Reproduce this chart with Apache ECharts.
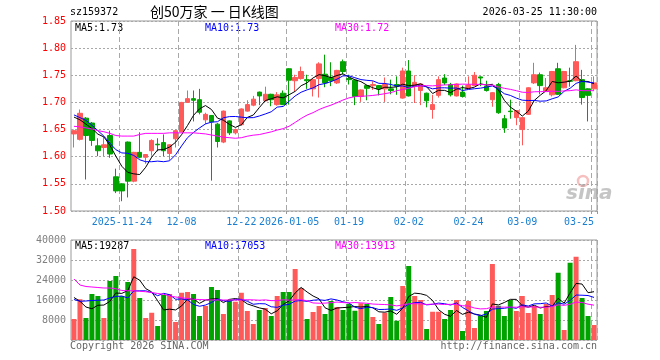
<!DOCTYPE html>
<html><head><meta charset="utf-8">
<script src="https://cdn.jsdelivr.net/npm/echarts@6/dist/echarts.min.js"></script>
<style>html,body{margin:0;padding:0;background:#fff}#c{width:660px;height:360px}</style>
</head><body><div id="c"></div>
<script>
const dates = ['2025-11-12','2025-11-13','2025-11-14','2025-11-17','2025-11-18','2025-11-19','2025-11-20','2025-11-21',
'2025-11-24','2025-11-25','2025-11-26','2025-11-27','2025-11-28','2025-12-01','2025-12-02','2025-12-03','2025-12-04','2025-12-05',
'2025-12-08','2025-12-09','2025-12-10','2025-12-11','2025-12-12','2025-12-15','2025-12-16','2025-12-17','2025-12-18','2025-12-19',
'2025-12-22','2025-12-23','2025-12-24','2025-12-25','2025-12-26','2025-12-29','2025-12-30','2025-12-31',
'2026-01-05','2026-01-06','2026-01-07','2026-01-08','2026-01-09','2026-01-12','2026-01-13','2026-01-14','2026-01-15','2026-01-16',
'2026-01-19','2026-01-20','2026-01-21','2026-01-22','2026-01-23','2026-01-26','2026-01-27','2026-01-28','2026-01-29','2026-01-30',
'2026-02-02','2026-02-03','2026-02-04','2026-02-05','2026-02-06','2026-02-09','2026-02-10','2026-02-11','2026-02-12','2026-02-13',
'2026-02-24','2026-02-25','2026-02-26','2026-02-27','2026-03-02','2026-03-03','2026-03-04','2026-03-05','2026-03-06',
'2026-03-09','2026-03-10','2026-03-11','2026-03-12','2026-03-13','2026-03-16','2026-03-17','2026-03-18','2026-03-19','2026-03-20',
'2026-03-23','2026-03-24','2026-03-25'];

const opens = [1.642,1.632,1.671,1.662,1.620,1.617,1.639,1.563,1.550,1.627,
1.555,1.608,1.599,1.611,1.623,1.626,1.606,1.633,1.646,1.700,
1.707,1.705,1.668,1.676,1.660,1.627,1.666,1.644,1.659,1.684,
1.695,1.719,1.703,1.715,1.696,1.717,1.762,1.740,1.744,1.742,
1.725,1.744,1.752,1.746,1.736,1.775,1.744,1.741,1.711,1.731,
1.731,1.731,1.725,1.725,1.733,1.708,1.758,1.730,1.722,1.717,
1.687,1.713,1.745,1.733,1.712,1.719,1.726,1.731,1.747,1.730,
1.705,1.733,1.670,1.684,1.672,1.650,1.678,1.736,1.751,1.721,
1.714,1.762,1.727,1.740,1.740,1.742,1.725,1.725];
const closes = [1.648,1.680,1.639,1.630,1.611,1.622,1.605,1.537,1.537,1.555,
1.608,1.599,1.604,1.630,1.622,1.611,1.622,1.648,1.700,1.707,
1.704,1.682,1.678,1.664,1.628,1.684,1.644,1.650,1.688,1.696,
1.706,1.712,1.715,1.705,1.714,1.696,1.741,1.746,1.757,1.740,
1.742,1.771,1.736,1.740,1.759,1.757,1.742,1.711,1.723,1.726,
1.733,1.725,1.733,1.722,1.730,1.758,1.712,1.737,1.734,1.703,
1.696,1.742,1.736,1.714,1.734,1.711,1.732,1.750,1.745,1.722,
1.718,1.681,1.653,1.683,1.685,1.672,1.727,1.751,1.731,1.727,
1.757,1.715,1.757,1.739,1.775,1.709,1.713,1.736];
const highs = [1.650,1.687,1.673,1.664,1.634,1.636,1.648,1.578,1.551,1.628,
1.609,1.645,1.605,1.632,1.634,1.641,1.623,1.650,1.701,1.722,
1.722,1.725,1.681,1.676,1.662,1.685,1.667,1.652,1.689,1.704,
1.712,1.720,1.729,1.716,1.719,1.722,1.763,1.751,1.766,1.751,
1.743,1.774,1.788,1.774,1.760,1.779,1.751,1.742,1.724,1.732,
1.739,1.732,1.746,1.742,1.748,1.764,1.778,1.750,1.735,1.718,
1.714,1.748,1.752,1.736,1.735,1.731,1.748,1.756,1.748,1.740,
1.719,1.736,1.677,1.705,1.686,1.673,1.728,1.773,1.755,1.745,
1.758,1.773,1.758,1.764,1.806,1.760,1.726,1.748];
const lows = [1.617,1.630,1.558,1.620,1.601,1.601,1.598,1.533,1.518,1.525,
1.553,1.597,1.587,1.602,1.610,1.601,1.594,1.617,1.645,1.699,
1.665,1.678,1.660,1.556,1.617,1.625,1.640,1.641,1.657,1.683,
1.693,1.695,1.701,1.693,1.694,1.695,1.696,1.720,1.742,1.725,
1.711,1.709,1.728,1.730,1.734,1.752,1.733,1.695,1.701,1.704,
1.723,1.713,1.701,1.715,1.714,1.707,1.711,1.699,1.695,1.691,
1.670,1.709,1.732,1.711,1.711,1.709,1.725,1.730,1.730,1.720,
1.692,1.679,1.644,1.670,1.658,1.621,1.677,1.734,1.715,1.720,
1.711,1.714,1.726,1.729,1.739,1.696,1.665,1.722];
const volumes = [8400,16300,8800,18400,17600,8800,23600,25600,17600,23200,
36400,16800,8800,10900,5600,18000,18400,7200,18900,19200,
18400,9600,13600,21200,20000,10400,16000,15300,18900,11600,
6400,12000,12800,9600,17600,19200,19200,28400,20800,8400,
11200,13600,10400,15600,13200,12000,14400,11700,14700,14400,
9200,6400,10900,17200,7700,21600,29600,17600,16000,4400,
11300,11300,8400,12000,16000,3600,15600,4800,9700,11600,
30400,13700,9600,16000,11600,17600,10800,13600,10400,14400,
18000,26900,4000,30900,33300,16800,9600,6000];

const ma5Lead = [1.673,1.668,1.660,1.652];
const ma10Lead = [1.677,1.672,1.667,1.658,1.648,1.638,1.625,1.613,1.607];
const ma30Lead = [1.656,1.655,1.653,1.651,1.648,1.646,1.643,1.639,1.638,1.638,
1.638,1.641,1.643,1.643,1.643,1.643,1.644,1.644,1.644,1.644,
1.644,1.643,1.642,1.640,1.638,1.636,1.635,1.634,1.635];
const vma5Lead = [17000,15500,13200,12500];
const vma10Lead = [16200,15500,15600,15800,15900,16000,16800,17400,17600];
const vma30Lead = [24400,22000,21400,21200,21000,20800,20800,20500,19800,19700,
19700,19500,19300,19000,18600,18300,17600,17200,16900,16600,
16300,16200,16100,16000,16000,16000,16000,16000,16000];

const tickDates = ['2025-11-24','2025-12-08','2025-12-22','2026-01-05','2026-01-19','2026-02-02','2026-02-24','2026-03-09','2026-03-25'];
const tickLabels = ['2025-11-24','12-08','12-22','2026-01-05','01-19','02-02','02-24','03-09','03-25'];
const priceMin = 1.50, priceMax = 1.85, priceStep = 0.05;
const volMin = 0, volMax = 40000, volStep = 8000;

const maLabels = ['MA5:1.73','MA10:1.73','MA30:1.72'];
const vmaLabels = ['MA5:19287','MA10:17053','MA30:13913'];

function movingAvg(vals, n, lead, dp) {
  return vals.map((v, i) => {
    if (i < n - 1) return lead[i];
    let s = 0; for (let k = i - n + 1; k <= i; k++) s += vals[k];
    return +(s / n).toFixed(dp);
  });
}
const RED = '#ff5a5a', GREEN = '#00a300';
const MONO = 'DejaVu Sans Mono';
const isTick = (i, v) => tickDates.indexOf(v) >= 0;
const kData = dates.map((d, i) => [opens[i], closes[i], lows[i], highs[i]]);
const volData = volumes.map((v, i) => ({ value: v, itemStyle: { color: closes[i] >= opens[i] ? RED : GREEN } }));

const chart = echarts.init(document.getElementById('c'), null, { renderer: 'canvas' });
const gridL = 71, gridR = 63;
const dashed = { color: '#a8a8a8', type: [5, 3], width: 1 };
const dotted = { color: '#a8a8a8', type: [2, 2], width: 1 };
function txt(x, y, s, color, opts) {
  return Object.assign({ type: 'text', x: x, y: y, silent: true, style: Object.assign({ text: s, fill: color, font: '10px "' + MONO + '"', textVerticalAlign: 'middle', verticalAlign: 'middle' }, opts || {}) });
}
const option = {
  animation: false,
  backgroundColor: '#fff',
  grid: [
    { left: gridL, right: gridR, top: 21, height: 190, show: true, borderColor: '#999', borderWidth: 1, backgroundColor: 'transparent' },
    { left: gridL, right: gridR, top: 240, height: 100, show: true, borderColor: '#999', borderWidth: 1, backgroundColor: 'transparent' }
  ],
  xAxis: [
    { type: 'category', gridIndex: 0, data: dates, boundaryGap: true,
      axisLine: { show: false },
      axisTick: { show: true, interval: isTick, length: 3, lineStyle: { color: '#999' } },
      axisLabel: { interval: isTick, color: '#1a7fd0', fontFamily: MONO, fontSize: 10, margin: 6,
        formatter: v => tickLabels[tickDates.indexOf(v)] || '', alignMaxLabel: 'right' },
      splitLine: { show: true, interval: isTick, lineStyle: dashed } },
    { type: 'category', gridIndex: 1, data: dates, boundaryGap: true,
      axisLine: { show: false }, axisTick: { show: false }, axisLabel: { show: false },
      splitLine: { show: true, interval: isTick, lineStyle: dashed } }
  ],
  yAxis: [
    { type: 'value', gridIndex: 0, min: priceMin, max: priceMax, interval: priceStep,
      axisLine: { show: false }, axisTick: { show: false },
      axisLabel: { color: '#ff0000', fontFamily: MONO, fontSize: 10, margin: 5, formatter: v => v.toFixed(2) },
      splitLine: { show: true, lineStyle: dotted } },
    { type: 'value', gridIndex: 1, min: volMin, max: volMax, interval: volStep,
      axisLine: { show: false }, axisTick: { show: false },
      axisLabel: { color: '#808080', fontFamily: MONO, fontSize: 10, margin: 5, formatter: v => v === 0 ? '' : String(v) },
      splitLine: { show: true, lineStyle: dotted } }
  ],
  series: [
    { type: 'candlestick', xAxisIndex: 0, yAxisIndex: 0, data: kData, barWidth: 5,
      itemStyle: { color: RED, color0: GREEN, borderColor: RED, borderColor0: GREEN, borderWidth: 1 } },
    { type: 'line', xAxisIndex: 0, yAxisIndex: 0, data: movingAvg(closes, 5, ma5Lead, 4), showSymbol: false, lineStyle: { color: '#000', width: 1 }, itemStyle: { color: '#000' } },
    { type: 'line', xAxisIndex: 0, yAxisIndex: 0, data: movingAvg(closes, 10, ma10Lead, 4), showSymbol: false, lineStyle: { color: '#0000ff', width: 1 }, itemStyle: { color: '#00f' } },
    { type: 'line', xAxisIndex: 0, yAxisIndex: 0, data: movingAvg(closes, 30, ma30Lead, 4), showSymbol: false, lineStyle: { color: '#ff00ff', width: 1 }, itemStyle: { color: '#f0f' } },
    { type: 'bar', xAxisIndex: 1, yAxisIndex: 1, data: volData, barWidth: 5 },
    { type: 'line', xAxisIndex: 1, yAxisIndex: 1, data: movingAvg(volumes, 5, vma5Lead, 0), showSymbol: false, lineStyle: { color: '#000', width: 1 }, itemStyle: { color: '#000' } },
    { type: 'line', xAxisIndex: 1, yAxisIndex: 1, data: movingAvg(volumes, 10, vma10Lead, 0), showSymbol: false, lineStyle: { color: '#0000ff', width: 1 }, itemStyle: { color: '#00f' } },
    { type: 'line', xAxisIndex: 1, yAxisIndex: 1, data: movingAvg(volumes, 30, vma30Lead, 0), showSymbol: false, lineStyle: { color: '#ff00ff', width: 1 }, itemStyle: { color: '#f0f' } }
  ],
  graphic: [
    txt(70, 12, 'sz159372', '#000'),
    txt(150, 12, '创50万家 一 日K线图', '#000', { font: '14px "Noto Sans CJK SC"' }),
    txt(597, 12, '2026-03-25 11:30:00', '#000', { align: 'right', textAlign: 'right' }),
    txt(75, 28, maLabels[0], '#000'),
    txt(205, 28, maLabels[1], '#0000ff'),
    txt(335, 28, maLabels[2], '#ff00ff'),
    txt(75, 246, vmaLabels[0], '#000'),
    txt(205, 246, vmaLabels[1], '#0000ff'),
    txt(335, 246, vmaLabels[2], '#ff00ff'),
    txt(70, 346, 'Copyright 2026 SINA.COM', '#666'),
    txt(597, 346, 'http://finance.sina.com.cn', '#666', { align: 'right', textAlign: 'right' }),
    { type: 'circle', silent: true, shape: { cx: 583, cy: 181, r: 5 }, style: { fill: 'none', stroke: 'rgba(240,140,140,0.55)', lineWidth: 2.5 } },
    txt(566, 194, 'sina', 'rgba(150,150,150,0.55)', { font: 'italic bold 20px "DejaVu Sans"' })
  ]
};
chart.setOption(option);
</script>
</body></html>
